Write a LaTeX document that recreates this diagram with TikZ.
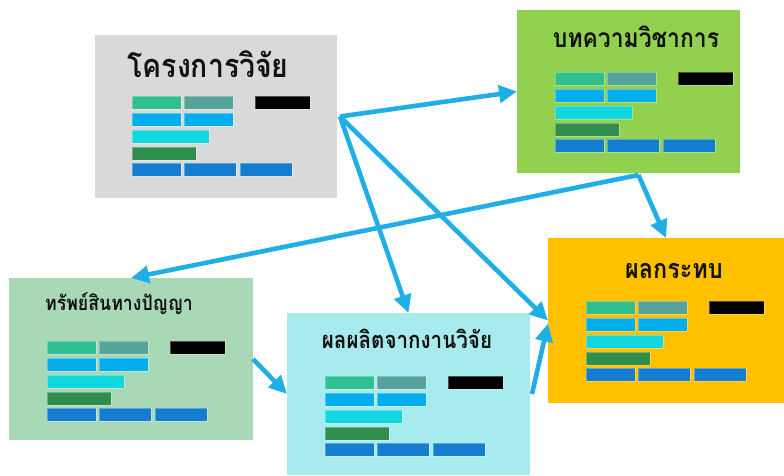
\documentclass[tikz,border=0pt]{standalone}
\usepackage{fontspec}
\usepackage{graphicx}
\newfontfamily\thaifont[Script=Thai]{Loma}
\usetikzlibrary{arrows.meta}

% panel fills
\definecolor{projgray}{HTML}{D9D9D9}
\definecolor{articlegreen}{HTML}{92D050}
\definecolor{ipgreen}{HTML}{A9D8B7}
\definecolor{outputcyan}{HTML}{A8EBEE}
\definecolor{impactorange}{HTML}{FFC000}
% bar fills
\definecolor{barteal}{HTML}{31BF8F}
\definecolor{bargrayteal}{HTML}{55A39A}
\definecolor{barsky}{HTML}{04AEEC}
\definecolor{barcyan}{HTML}{11D7E0}
\definecolor{bargreen}{HTML}{2F8D4E}
\definecolor{barblue}{HTML}{147DCF}
% connectors and text
\definecolor{linkblue}{HTML}{1FAEE6}
\definecolor{inkblack}{HTML}{121212}

% heading text: bold Thai, a little taller than its natural shape
\newcommand{\headtext}[2]{\scalebox{1}[1.15]{\fontsize{#1}{#1}\selectfont #2}}

\tikzset{
  panel/.style={anchor=north west, inner sep=0pt, outer sep=0pt},
  bar/.style={draw=white, draw opacity=0.3, line width=0.7pt},
  heading/.style={anchor=base, inner sep=0pt, text=inkblack, font=\thaifont\bfseries},
  link/.style={draw=linkblue, line width=4.6pt,
    -{Triangle[length=18pt,width=17pt]}},
  barset/.pic={
    \path[bar, fill=barteal]     (0,0)   rectangle (49,13);
    \path[bar, fill=bargrayteal] (52,0)  rectangle (101,13);
    \path[bar, fill=black]       (123,0) rectangle (178,13);
    \path[bar, fill=barsky]      (0,17)  rectangle (49,30);
    \path[bar, fill=barsky]      (52,17) rectangle (101,30);
    \path[bar, fill=barcyan]     (0,34)  rectangle (77,47);
    \path[bar, fill=bargreen]    (0,51)  rectangle (64,64);
    \path[bar, fill=barblue]     (0,67)  rectangle (49,80);
    \path[bar, fill=barblue]     (52,67) rectangle (104,80);
    \path[bar, fill=barblue]     (108,67) rectangle (160,80);
  }
}

\begin{document}
\begin{tikzpicture}[x=1pt, y=-1pt]
\useasboundingbox[fill=white] (0,0) rectangle (784,475);

% panels
\node[panel, fill=projgray, minimum width=242pt, minimum height=163pt] (proj) at (95,35) {};
\node[panel, fill=articlegreen, minimum width=223pt, minimum height=163pt] (article) at (517,10) {};
\node[panel, fill=ipgreen, minimum width=244pt, minimum height=162pt] (ip) at (9,278) {};
\node[panel, fill=outputcyan, minimum width=243pt, minimum height=162pt] (output) at (287,313) {};
\node[panel, fill=impactorange, minimum width=236pt, minimum height=165pt] (impact) at (548,238) {};

% bar groups inside the panels
\pic at (132,96)  {barset};
\pic at (555,72)  {barset};
\pic at (47,341)  {barset};
\pic at (325,376) {barset};
\pic at (586,301) {barset};

% headings
\node[heading] (projtitle) at (208,77) {\headtext{28.4}{โครงการวิจัย}};
\node[heading] (articletitle) at (636,47) {\headtext{22.9}{บทความวิชาการ}};
\node[heading] (iptitle) at (119,310) {\headtext{17.7}{ทรัพย์สินทางปัญญา}};
\node[heading] (outputtitle) at (407,348) {\headtext{20.6}{ผลผลิตจากงานวิจัย}};
\node[heading] (impacttitle) at (674,278) {\headtext{23.4}{ผลกระทบ}};

% connectors
\coordinate (hub) at ([xshift=3pt]proj.east);
\coordinate (fork) at ([xshift=10pt,yshift=-2pt]article.south);
\draw[link] (hub) -- (article.west);
\draw[link] (hub) -- (output.north);
\draw[link] (hub) -- (impact.west);
\draw[link] (fork) -- (ip.north);
\draw[link] (fork) -- (impact.north);
\draw[link] (ip.east) -- (output.west);
\draw[link] ([xshift=2pt]output.east) -- ([yshift=-3pt]impact.west);
\end{tikzpicture}
\end{document}
